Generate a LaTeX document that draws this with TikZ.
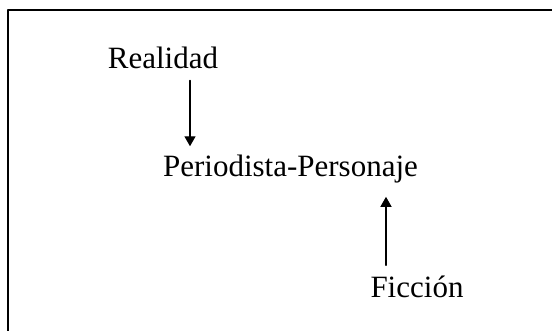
\documentclass[tikz,border=0pt]{standalone}
\usepackage{fontspec}
\setmainfont{Liberation Serif}
\usetikzlibrary{arrows.meta}

\begin{document}
\begin{tikzpicture}[line cap=round,line join=round,>={Triangle[length=10pt,width=11pt]},x=1pt,y=-1pt,
	palabra/.style={inner sep=0pt,anchor=base,font=\fontsize{31}{36}\selectfont},
	flecha/.style={->,line width=1.4pt}]
		\useasboundingbox (0,0) rectangle (552,331);
		\draw [line width=1.8pt] (8,10) rectangle (570,350);
		\node[palabra] (realidad) at (163,69) {Realidad};
		\node[palabra] (periodista) at (290.5,177) {Periodista-Personaje};
		\node[palabra] (ficcion) at (417,298) {Ficción};
		\draw [flecha] ([xshift=27pt,yshift=-11pt]realidad.south) -- ([xshift=-100.5pt,yshift=9pt]periodista.north);
		\draw [flecha] ([xshift=-31pt,yshift=11pt]ficcion.north) -- ([xshift=95.5pt,yshift=-13pt]periodista.south);
\end{tikzpicture}
\end{document}
